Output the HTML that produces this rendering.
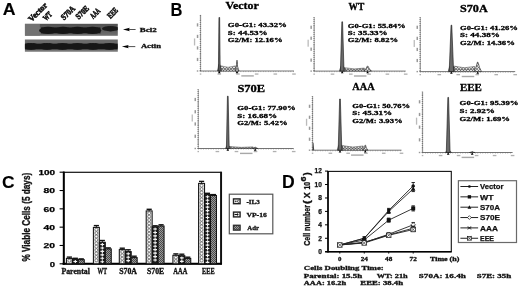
<!DOCTYPE html>
<html><head><meta charset="utf-8"><style>
html,body{margin:0;padding:0;background:#fff;}
svg{display:block;filter:grayscale(100%);}
text{paint-order:stroke;}
</style></head><body>
<svg width="520" height="287" viewBox="0 0 520 287">
<rect width="520" height="287" fill="#fff"/>

<defs>
 <pattern id="pHatch" width="2" height="2" patternUnits="userSpaceOnUse">
  <rect width="2" height="2" fill="#9a9a9a"/>
  <rect width="1" height="1" fill="#4a4a4a"/>
  <rect x="1" y="1" width="1" height="1" fill="#4a4a4a"/>
 </pattern>
 <pattern id="pS" width="3" height="3" patternUnits="userSpaceOnUse">
  <rect width="3" height="3" fill="#e4e4e4"/>
  <path d="M0,0 L3,3 M3,0 L0,3" stroke="#555" stroke-width="0.6"/>
 </pattern>
 <linearGradient id="gBlot1" x1="0" y1="0" x2="0" y2="1">
  <stop offset="0" stop-color="#525252"/>
  <stop offset="0.6" stop-color="#5e5e5e"/>
  <stop offset="1" stop-color="#747474"/>
 </linearGradient>
 <linearGradient id="gBlot2" x1="0" y1="0" x2="0" y2="1">
  <stop offset="0" stop-color="#6a6a6a"/>
  <stop offset="0.8" stop-color="#6a6a6a"/>
  <stop offset="1" stop-color="#858585"/>
 </linearGradient>
 <filter id="fBlur" x="-5%" y="-20%" width="110%" height="140%"><feGaussianBlur stdDeviation="0.55"/></filter>
 <clipPath id="cBlot1"><rect x="24.9" y="23.8" width="92.9" height="12.0"/></clipPath>
 <clipPath id="cBlot2"><rect x="24.9" y="39.5" width="92.9" height="12.3"/></clipPath>
</defs>
<text x="2.8" y="15.1" font-size="17" font-family='"Liberation Sans", sans-serif' font-weight="bold" fill="#000" textLength="12.8" lengthAdjust="spacingAndGlyphs" stroke="#000" stroke-width="0.15" >A</text>
<rect x="24.9" y="23.8" width="92.9" height="12.0" fill="url(#gBlot1)"/>
<g filter="url(#fBlur)" clip-path="url(#cBlot1)">
<rect x="24.9" y="23.8" width="15" height="12" fill="#727272" />
<ellipse cx="48" cy="30.4" rx="9" ry="3.55" fill="#161616"/>
<ellipse cx="63" cy="30.4" rx="8.8" ry="3.55" fill="#161616"/>
<ellipse cx="77.5" cy="30.4" rx="8.6" ry="3.55" fill="#161616"/>
<ellipse cx="92.5" cy="30.4" rx="8.8" ry="3.55" fill="#161616"/>
<rect x="41" y="27.4" width="59.5" height="6.0" fill="#161616"/>
<ellipse cx="110.5" cy="28.7" rx="8.5" ry="2.7" fill="#1c1c1c"/>
</g>
<rect x="24.9" y="39.5" width="92.9" height="12.3" fill="url(#gBlot2)"/>
<g filter="url(#fBlur)" clip-path="url(#cBlot2)">
<ellipse cx="31" cy="46.4" rx="8.6" ry="3.3" fill="#141414"/>
<ellipse cx="47" cy="46.4" rx="8.6" ry="3.3" fill="#141414"/>
<ellipse cx="62.5" cy="46.4" rx="8.6" ry="3.3" fill="#141414"/>
<ellipse cx="77.5" cy="46.4" rx="8.6" ry="3.3" fill="#141414"/>
<ellipse cx="93" cy="46.4" rx="8.6" ry="3.3" fill="#141414"/>
<ellipse cx="109.5" cy="46.4" rx="8.6" ry="3.3" fill="#141414"/>
<rect x="24.9" y="43.6" width="92.9" height="5.8" fill="#141414"/>
</g>
<text x="31.6" y="22.2" font-size="8.4" font-family='"Liberation Serif", serif' font-weight="bold" fill="#111" textLength="23" lengthAdjust="spacingAndGlyphs" stroke="#111" stroke-width="0.6" transform="rotate(-45 31.6 22.2)" >Vector</text>
<text x="46.2" y="21.3" font-size="8.4" font-family='"Liberation Serif", serif' font-weight="bold" fill="#111" textLength="9" lengthAdjust="spacingAndGlyphs" stroke="#111" stroke-width="0.6" transform="rotate(-45 46.2 21.3)" >WT</text>
<text x="64.1" y="20.5" font-size="8.4" font-family='"Liberation Serif", serif' font-weight="bold" fill="#111" textLength="16.2" lengthAdjust="spacingAndGlyphs" stroke="#111" stroke-width="0.6" transform="rotate(-45 64.1 20.5)" >S70A</text>
<text x="78.8" y="19.8" font-size="8.4" font-family='"Liberation Serif", serif' font-weight="bold" fill="#111" textLength="15.3" lengthAdjust="spacingAndGlyphs" stroke="#111" stroke-width="0.6" transform="rotate(-45 78.8 19.8)" >S70E</text>
<text x="93.2" y="19.2" font-size="8.4" font-family='"Liberation Serif", serif' font-weight="bold" fill="#111" textLength="11" lengthAdjust="spacingAndGlyphs" stroke="#111" stroke-width="0.6" transform="rotate(-45 93.2 19.2)" >AAA</text>
<text x="110.6" y="18.9" font-size="8.4" font-family='"Liberation Serif", serif' font-weight="bold" fill="#111" textLength="11.2" lengthAdjust="spacingAndGlyphs" stroke="#111" stroke-width="0.6" transform="rotate(-45 110.6 18.9)" >EEE</text>
<line x1="126" y1="29.5" x2="135.6" y2="29.5" stroke="#222" stroke-width="0.8" />
<polygon points="123,29.5 129.8,27.8 128.8,29.5 129.8,31.2" fill="#000" />
<line x1="124.9" y1="46.6" x2="135.3" y2="46.6" stroke="#222" stroke-width="0.8" />
<polygon points="121.9,46.6 128.7,44.9 127.7,46.6 128.7,48.3" fill="#000" />
<text x="139.8" y="31.5" font-size="6.8" font-family='"Liberation Serif", serif' font-weight="bold" fill="#111" textLength="17" lengthAdjust="spacingAndGlyphs" stroke="#111" stroke-width="0.3" >Bcl2</text>
<text x="140.9" y="47.8" font-size="6.8" font-family='"Liberation Serif", serif' font-weight="bold" fill="#111" textLength="20.1" lengthAdjust="spacingAndGlyphs" stroke="#111" stroke-width="0.3" >Actin</text>
<text x="170.6" y="15.6" font-size="17.9" font-family='"Liberation Sans", sans-serif' font-weight="bold" fill="#000" textLength="11.9" lengthAdjust="spacingAndGlyphs" stroke="#000" stroke-width="0.1" >B</text>
<line x1="200.6" y1="14.9" x2="200.6" y2="71" stroke="#666" stroke-width="0.6" />
<line x1="200.4" y1="14.9" x2="200.4" y2="71" stroke="#444" stroke-width="1.4" stroke-dasharray="0.5 1.4"/>
<rect x="196.8" y="70.3" width="1.5" height="1.4" fill="#999" />
<rect x="196.8" y="57.88" width="1.5" height="3.2" fill="#999" />
<rect x="196.8" y="46.35" width="1.5" height="3.2" fill="#999" />
<rect x="196.8" y="34.82" width="1.5" height="3.2" fill="#999" />
<rect x="196.8" y="23.3" width="1.5" height="3.2" fill="#999" />
<rect x="193.9" y="38.45" width="1.3" height="7" fill="#bbb" />
<line x1="199.6" y1="71" x2="294" y2="71" stroke="#3a3a3a" stroke-width="0.7" />
<line x1="200.6" y1="71.6" x2="294" y2="71.6" stroke="#666" stroke-width="0.8" stroke-dasharray="0.5 2.0"/>
<rect x="199.8" y="73.4" width="1.5" height="1.3" fill="#b0b0b0" />
<rect x="217.48" y="73.4" width="3.6" height="1.3" fill="#b0b0b0" />
<rect x="236.16" y="73.4" width="3.6" height="1.3" fill="#b0b0b0" />
<rect x="254.84" y="73.4" width="3.6" height="1.3" fill="#b0b0b0" />
<rect x="273.52" y="73.4" width="3.6" height="1.3" fill="#b0b0b0" />
<rect x="292.2" y="73.4" width="3.6" height="1.3" fill="#b0b0b0" />
<rect x="241.3" y="75.2" width="12.5" height="1.4" fill="#a8a8a8" />
<path d="M220.5,71 L220.5,65.8 Q228.05,68.8 235.6,65.9 L235.6,71 Z" fill="url(#pS)" stroke="#333" stroke-width="0.5"/>
<path d="M220.5,68.6 Q228.05,70 235.6,68.42" fill="none" stroke="#444" stroke-width="0.45"/>
<polygon points="235,71 236.44,66.28 236.7,60.5 237.3,60.5 237.56,66.28 239,71" fill="url(#pS)" stroke="#222" stroke-width="0.6" />
<polygon points="217.4,71 218.2,67.75 218.76,64.5 219.84,64.5 220.8,67.75 221.7,71" fill="#888" stroke="#222" stroke-width="0.5" />
<polygon points="218.4,71 218.95,17.5 219.65,17.5 220.2,71" fill="#6a6a6a" stroke="#111" stroke-width="0.6" />
<polygon points="218,73.2 219.3,70.8 220.6,73.2" fill="#000" />
<polygon points="235.7,73.2 237,70.8 238.3,73.2" fill="#000" />
<text x="225.5" y="9.3" font-size="10.3" font-family='"Liberation Serif", serif' font-weight="bold" fill="#000" textLength="33.3" lengthAdjust="spacingAndGlyphs" stroke="#000" stroke-width="0.3" >Vector</text>
<text x="227.8" y="27.2" font-size="7" font-family='"Liberation Serif", serif' font-weight="bold" fill="#000" textLength="59.1" lengthAdjust="spacingAndGlyphs" stroke="#000" stroke-width="0.3" >G0-G1: 43.32%</text>
<text x="227.8" y="34.7" font-size="7" font-family='"Liberation Serif", serif' font-weight="bold" fill="#000" textLength="39.8" lengthAdjust="spacingAndGlyphs" stroke="#000" stroke-width="0.3" >S: 44.53%</text>
<text x="227.8" y="42.2" font-size="7" font-family='"Liberation Serif", serif' font-weight="bold" fill="#000" textLength="54.8" lengthAdjust="spacingAndGlyphs" stroke="#000" stroke-width="0.3" >G2/M: 12.16%</text>
<line x1="314.2" y1="17.3" x2="314.2" y2="71.1" stroke="#666" stroke-width="0.6" />
<line x1="314" y1="17.3" x2="314" y2="71.1" stroke="#444" stroke-width="1.4" stroke-dasharray="0.5 1.4"/>
<rect x="310.4" y="70.4" width="1.5" height="1.4" fill="#999" />
<rect x="310.4" y="58.55" width="1.5" height="3.2" fill="#999" />
<rect x="310.4" y="47.6" width="1.5" height="3.2" fill="#999" />
<rect x="310.4" y="36.65" width="1.5" height="3.2" fill="#999" />
<rect x="310.4" y="25.7" width="1.5" height="3.2" fill="#999" />
<rect x="307.5" y="39.7" width="1.3" height="7" fill="#bbb" />
<line x1="313.2" y1="71.1" x2="405.7" y2="71.1" stroke="#3a3a3a" stroke-width="0.7" />
<line x1="314.2" y1="71.7" x2="405.7" y2="71.7" stroke="#666" stroke-width="0.8" stroke-dasharray="0.5 2.0"/>
<rect x="313.4" y="73.5" width="1.5" height="1.3" fill="#b0b0b0" />
<rect x="330.7" y="73.5" width="3.6" height="1.3" fill="#b0b0b0" />
<rect x="349" y="73.5" width="3.6" height="1.3" fill="#b0b0b0" />
<rect x="367.3" y="73.5" width="3.6" height="1.3" fill="#b0b0b0" />
<rect x="385.6" y="73.5" width="3.6" height="1.3" fill="#b0b0b0" />
<rect x="403.9" y="73.5" width="3.6" height="1.3" fill="#b0b0b0" />
<rect x="353.95" y="75.3" width="12.5" height="1.4" fill="#a8a8a8" />
<path d="M344.3,71.1 L344.3,67.7 Q354.35,69.89 364.4,68.1 L364.4,71.1 Z" fill="url(#pS)" stroke="#333" stroke-width="0.5"/>
<path d="M344.3,69.78 Q354.35,70.55 364.4,69.78" fill="none" stroke="#444" stroke-width="0.45"/>
<polygon points="363.8,71.1 365.78,68.85 367.3,66.1 367.9,66.1 369.42,68.85 371.4,71.1" fill="url(#pS)" stroke="#222" stroke-width="0.6" />
<polygon points="339.4,71.1 340.2,68.6 341.12,66.1 343.28,66.1 344.6,68.6 345.5,71.1" fill="#888" stroke="#222" stroke-width="0.5" />
<polygon points="340.4,71.1 341.85,21.8 342.55,21.8 344,71.1" fill="#6a6a6a" stroke="#111" stroke-width="0.6" />
<polygon points="340.9,73.3 342.2,70.9 343.5,73.3" fill="#000" />
<polygon points="366.3,73.3 367.6,70.9 368.9,73.3" fill="#000" />
<text x="348.5" y="9.5" font-size="9.6" font-family='"Liberation Serif", serif' font-weight="bold" fill="#000" textLength="15.7" lengthAdjust="spacingAndGlyphs" stroke="#000" stroke-width="0.3" >WT</text>
<text x="347.8" y="27.6" font-size="7" font-family='"Liberation Serif", serif' font-weight="bold" fill="#000" textLength="57.9" lengthAdjust="spacingAndGlyphs" stroke="#000" stroke-width="0.3" >G0-G1: 55.84%</text>
<text x="347.8" y="34.9" font-size="7" font-family='"Liberation Serif", serif' font-weight="bold" fill="#000" textLength="39.8" lengthAdjust="spacingAndGlyphs" stroke="#000" stroke-width="0.3" >S: 35.33%</text>
<text x="347.8" y="42.2" font-size="7" font-family='"Liberation Serif", serif' font-weight="bold" fill="#000" textLength="50.3" lengthAdjust="spacingAndGlyphs" stroke="#000" stroke-width="0.3" >G2/M: 8.82%</text>
<line x1="420.3" y1="17.3" x2="420.3" y2="71.6" stroke="#666" stroke-width="0.6" />
<line x1="420.1" y1="17.3" x2="420.1" y2="71.6" stroke="#444" stroke-width="1.4" stroke-dasharray="0.5 1.4"/>
<rect x="416.5" y="70.9" width="1.5" height="1.4" fill="#999" />
<rect x="416.5" y="58.92" width="1.5" height="3.2" fill="#999" />
<rect x="416.5" y="47.85" width="1.5" height="3.2" fill="#999" />
<rect x="416.5" y="36.77" width="1.5" height="3.2" fill="#999" />
<rect x="416.5" y="25.7" width="1.5" height="3.2" fill="#999" />
<rect x="413.6" y="39.95" width="1.3" height="7" fill="#bbb" />
<line x1="419.3" y1="71.6" x2="515.2" y2="71.6" stroke="#3a3a3a" stroke-width="0.7" />
<line x1="420.3" y1="72.2" x2="515.2" y2="72.2" stroke="#666" stroke-width="0.8" stroke-dasharray="0.5 2.0"/>
<rect x="419.5" y="74" width="1.5" height="1.3" fill="#b0b0b0" />
<rect x="437.48" y="74" width="3.6" height="1.3" fill="#b0b0b0" />
<rect x="456.46" y="74" width="3.6" height="1.3" fill="#b0b0b0" />
<rect x="475.44" y="74" width="3.6" height="1.3" fill="#b0b0b0" />
<rect x="494.42" y="74" width="3.6" height="1.3" fill="#b0b0b0" />
<rect x="513.4" y="74" width="3.6" height="1.3" fill="#b0b0b0" />
<rect x="461.75" y="75.8" width="12.5" height="1.4" fill="#a8a8a8" />
<path d="M453.9,71.6 L453.9,66.1 Q464.2,69.23 474.5,66.5 L474.5,71.6 Z" fill="url(#pS)" stroke="#333" stroke-width="0.5"/>
<path d="M453.9,69.02 Q464.2,70.52 474.5,69.02" fill="none" stroke="#444" stroke-width="0.45"/>
<polygon points="473.9,71.6 475.88,67.37 477.4,62.2 478,62.2 479.52,67.37 481.5,71.6" fill="url(#pS)" stroke="#222" stroke-width="0.6" />
<polygon points="448.2,71.6 449,68.6 450.08,65.6 452.72,65.6 454.2,68.6 455.1,71.6" fill="#888" stroke="#222" stroke-width="0.5" />
<polygon points="449.2,71.6 451.05,25.2 451.75,25.2 453.6,71.6" fill="#6a6a6a" stroke="#111" stroke-width="0.6" />
<polygon points="450.1,73.8 451.4,71.4 452.7,73.8" fill="#000" />
<polygon points="476.4,73.8 477.7,71.4 479,73.8" fill="#000" />
<text x="460" y="12" font-size="9.6" font-family='"Liberation Serif", serif' font-weight="bold" fill="#000" textLength="27.7" lengthAdjust="spacingAndGlyphs" stroke="#000" stroke-width="0.3" >S70A</text>
<text x="460" y="29.8" font-size="7" font-family='"Liberation Serif", serif' font-weight="bold" fill="#000" textLength="57.9" lengthAdjust="spacingAndGlyphs" stroke="#000" stroke-width="0.3" >G0-G1: 41.26%</text>
<text x="460" y="37.4" font-size="7" font-family='"Liberation Serif", serif' font-weight="bold" fill="#000" textLength="39.8" lengthAdjust="spacingAndGlyphs" stroke="#000" stroke-width="0.3" >S: 44.38%</text>
<text x="460" y="45" font-size="7" font-family='"Liberation Serif", serif' font-weight="bold" fill="#000" textLength="54.8" lengthAdjust="spacingAndGlyphs" stroke="#000" stroke-width="0.3" >G2/M: 14.36%</text>
<line x1="198.3" y1="89.5" x2="198.3" y2="148.5" stroke="#666" stroke-width="0.6" />
<line x1="198.1" y1="89.5" x2="198.1" y2="148.5" stroke="#444" stroke-width="1.4" stroke-dasharray="0.5 1.4"/>
<rect x="194.5" y="147.8" width="1.5" height="1.4" fill="#999" />
<rect x="194.5" y="134.65" width="1.5" height="3.2" fill="#999" />
<rect x="194.5" y="122.4" width="1.5" height="3.2" fill="#999" />
<rect x="194.5" y="110.15" width="1.5" height="3.2" fill="#999" />
<rect x="194.5" y="97.9" width="1.5" height="3.2" fill="#999" />
<rect x="191.6" y="114.5" width="1.3" height="7" fill="#bbb" />
<line x1="197.3" y1="148.5" x2="293.7" y2="148.5" stroke="#3a3a3a" stroke-width="0.7" />
<line x1="198.3" y1="149.1" x2="293.7" y2="149.1" stroke="#666" stroke-width="0.8" stroke-dasharray="0.5 2.0"/>
<rect x="197.5" y="150.9" width="1.5" height="1.3" fill="#b0b0b0" />
<rect x="215.58" y="150.9" width="3.6" height="1.3" fill="#b0b0b0" />
<rect x="234.66" y="150.9" width="3.6" height="1.3" fill="#b0b0b0" />
<rect x="253.74" y="150.9" width="3.6" height="1.3" fill="#b0b0b0" />
<rect x="272.82" y="150.9" width="3.6" height="1.3" fill="#b0b0b0" />
<rect x="291.9" y="150.9" width="3.6" height="1.3" fill="#b0b0b0" />
<rect x="240" y="152.7" width="12.5" height="1.4" fill="#a8a8a8" />
<path d="M229.5,148.5 L229.5,146.5 Q241.3,148.06 253.1,146.9 L253.1,148.5 Z" fill="url(#pS)" stroke="#333" stroke-width="0.5"/>
<path d="M229.5,148.02 Q241.3,148.3 253.1,148.02" fill="none" stroke="#444" stroke-width="0.45"/>
<polygon points="252.5,148.5 254.15,147.82 254.9,147 255.5,147 256.25,147.82 257.9,148.5" fill="url(#pS)" stroke="#222" stroke-width="0.6" />
<polygon points="225.4,148.5 226.2,147 226.96,145.5 228.64,145.5 229.8,147 230.7,148.5" fill="#888" stroke="#222" stroke-width="0.5" />
<polygon points="226.4,148.5 227.45,96.2 228.15,96.2 229.2,148.5" fill="#6a6a6a" stroke="#111" stroke-width="0.6" />
<polygon points="226.5,150.7 227.8,148.3 229.1,150.7" fill="#000" />
<polygon points="253.9,150.7 255.2,148.3 256.5,150.7" fill="#000" />
<text x="237.4" y="92.2" font-size="9.6" font-family='"Liberation Serif", serif' font-weight="bold" fill="#000" textLength="27.7" lengthAdjust="spacingAndGlyphs" stroke="#000" stroke-width="0.3" >S70E</text>
<text x="237.3" y="110" font-size="7" font-family='"Liberation Serif", serif' font-weight="bold" fill="#000" textLength="58.4" lengthAdjust="spacingAndGlyphs" stroke="#000" stroke-width="0.3" >G0-G1: 77.90%</text>
<text x="237.3" y="117.6" font-size="7" font-family='"Liberation Serif", serif' font-weight="bold" fill="#000" textLength="39.8" lengthAdjust="spacingAndGlyphs" stroke="#000" stroke-width="0.3" >S: 16.68%</text>
<text x="237.3" y="125.2" font-size="7" font-family='"Liberation Serif", serif' font-weight="bold" fill="#000" textLength="50.3" lengthAdjust="spacingAndGlyphs" stroke="#000" stroke-width="0.3" >G2/M: 5.42%</text>
<line x1="312.6" y1="96.3" x2="312.6" y2="150.2" stroke="#666" stroke-width="0.6" />
<line x1="312.4" y1="96.3" x2="312.4" y2="150.2" stroke="#444" stroke-width="1.4" stroke-dasharray="0.5 1.4"/>
<rect x="308.8" y="149.5" width="1.5" height="1.4" fill="#999" />
<rect x="308.8" y="137.62" width="1.5" height="3.2" fill="#999" />
<rect x="308.8" y="126.65" width="1.5" height="3.2" fill="#999" />
<rect x="308.8" y="115.67" width="1.5" height="3.2" fill="#999" />
<rect x="308.8" y="104.7" width="1.5" height="3.2" fill="#999" />
<rect x="305.9" y="118.75" width="1.3" height="7" fill="#bbb" />
<line x1="311.6" y1="150.2" x2="401.5" y2="150.2" stroke="#3a3a3a" stroke-width="0.7" />
<line x1="312.6" y1="150.8" x2="401.5" y2="150.8" stroke="#666" stroke-width="0.8" stroke-dasharray="0.5 2.0"/>
<rect x="311.8" y="152.6" width="1.5" height="1.3" fill="#b0b0b0" />
<rect x="328.58" y="152.6" width="3.6" height="1.3" fill="#b0b0b0" />
<rect x="346.36" y="152.6" width="3.6" height="1.3" fill="#b0b0b0" />
<rect x="364.14" y="152.6" width="3.6" height="1.3" fill="#b0b0b0" />
<rect x="381.92" y="152.6" width="3.6" height="1.3" fill="#b0b0b0" />
<rect x="399.7" y="152.6" width="3.6" height="1.3" fill="#b0b0b0" />
<rect x="351.05" y="154.4" width="12.5" height="1.4" fill="#a8a8a8" />
<path d="M342.1,150.2 L342.1,145.6 Q352.65,148.33 363.2,146 L363.2,150.2 Z" fill="url(#pS)" stroke="#333" stroke-width="0.5"/>
<path d="M342.1,148.16 Q352.65,149.35 363.2,148.16" fill="none" stroke="#444" stroke-width="0.45"/>
<polygon points="362.6,150.2 364.25,147.95 365,145.2 365.6,145.2 366.35,147.95 368,150.2" fill="url(#pS)" stroke="#222" stroke-width="0.6" />
<polygon points="337.2,150.2 338,147.45 338.92,144.7 341.08,144.7 342.4,147.45 343.3,150.2" fill="#888" stroke="#222" stroke-width="0.5" />
<polygon points="338.2,150.2 339.65,99 340.35,99 341.8,150.2" fill="#6a6a6a" stroke="#111" stroke-width="0.6" />
<polygon points="338.7,152.4 340,150 341.3,152.4" fill="#000" />
<polygon points="364,152.4 365.3,150 366.6,152.4" fill="#000" />
<polygon points="312.7,150.2 313,142.7 313.5,142.7 314.2,150.2" fill="#444" />
<text x="352.3" y="89.5" font-size="9.6" font-family='"Liberation Serif", serif' font-weight="bold" fill="#000" textLength="22.3" lengthAdjust="spacingAndGlyphs" stroke="#000" stroke-width="0.3" >AAA</text>
<text x="352.3" y="107.8" font-size="7" font-family='"Liberation Serif", serif' font-weight="bold" fill="#000" textLength="57.8" lengthAdjust="spacingAndGlyphs" stroke="#000" stroke-width="0.3" >G0-G1: 50.76%</text>
<text x="352.3" y="115.4" font-size="7" font-family='"Liberation Serif", serif' font-weight="bold" fill="#000" textLength="39.8" lengthAdjust="spacingAndGlyphs" stroke="#000" stroke-width="0.3" >S: 45.31%</text>
<text x="352.3" y="123" font-size="7" font-family='"Liberation Serif", serif' font-weight="bold" fill="#000" textLength="50.3" lengthAdjust="spacingAndGlyphs" stroke="#000" stroke-width="0.3" >G2/M: 3.93%</text>
<line x1="422.6" y1="91.8" x2="422.6" y2="152.5" stroke="#666" stroke-width="0.6" />
<line x1="422.4" y1="91.8" x2="422.4" y2="152.5" stroke="#444" stroke-width="1.4" stroke-dasharray="0.5 1.4"/>
<rect x="418.8" y="151.8" width="1.5" height="1.4" fill="#999" />
<rect x="418.8" y="138.22" width="1.5" height="3.2" fill="#999" />
<rect x="418.8" y="125.55" width="1.5" height="3.2" fill="#999" />
<rect x="418.8" y="112.88" width="1.5" height="3.2" fill="#999" />
<rect x="418.8" y="100.2" width="1.5" height="3.2" fill="#999" />
<rect x="415.9" y="117.65" width="1.3" height="7" fill="#bbb" />
<line x1="421.6" y1="152.5" x2="512.6" y2="152.5" stroke="#3a3a3a" stroke-width="0.7" />
<line x1="422.6" y1="153.1" x2="512.6" y2="153.1" stroke="#666" stroke-width="0.8" stroke-dasharray="0.5 2.0"/>
<rect x="421.8" y="154.9" width="1.5" height="1.3" fill="#b0b0b0" />
<rect x="438.8" y="154.9" width="3.6" height="1.3" fill="#b0b0b0" />
<rect x="456.8" y="154.9" width="3.6" height="1.3" fill="#b0b0b0" />
<rect x="474.8" y="154.9" width="3.6" height="1.3" fill="#b0b0b0" />
<rect x="492.8" y="154.9" width="3.6" height="1.3" fill="#b0b0b0" />
<rect x="510.8" y="154.9" width="3.6" height="1.3" fill="#b0b0b0" />
<rect x="461.6" y="156.7" width="12.5" height="1.4" fill="#a8a8a8" />
<polygon points="469.5,152.5 471.15,152.09 471.9,151.6 472.5,151.6 473.25,152.09 474.9,152.5" fill="url(#pS)" stroke="#222" stroke-width="0.6" />
<polygon points="445.3,152.5 446.1,151.5 447.06,150.5 449.34,150.5 450.7,151.5 451.6,152.5" fill="#888" stroke="#222" stroke-width="0.5" />
<polygon points="446.3,152.5 447.85,97.4 448.55,97.4 450.1,152.5" fill="#6a6a6a" stroke="#111" stroke-width="0.6" />
<polygon points="446.9,154.7 448.2,152.3 449.5,154.7" fill="#000" />
<polygon points="470.9,154.7 472.2,152.3 473.5,154.7" fill="#000" />
<text x="460" y="90.9" font-size="9.6" font-family='"Liberation Serif", serif' font-weight="bold" fill="#000" textLength="21.8" lengthAdjust="spacingAndGlyphs" stroke="#000" stroke-width="0.3" >EEE</text>
<text x="459.6" y="105.1" font-size="7" font-family='"Liberation Serif", serif' font-weight="bold" fill="#000" textLength="59" lengthAdjust="spacingAndGlyphs" stroke="#000" stroke-width="0.3" >G0-G1: 95.39%</text>
<text x="459.6" y="113" font-size="7" font-family='"Liberation Serif", serif' font-weight="bold" fill="#000" textLength="35.3" lengthAdjust="spacingAndGlyphs" stroke="#000" stroke-width="0.3" >S: 2.92%</text>
<text x="459.6" y="120.9" font-size="7" font-family='"Liberation Serif", serif' font-weight="bold" fill="#000" textLength="50.3" lengthAdjust="spacingAndGlyphs" stroke="#000" stroke-width="0.3" >G2/M: 1.69%</text>
<text x="2.1" y="187.8" font-size="17.4" font-family='"Liberation Sans", sans-serif' font-weight="bold" fill="#000" textLength="12.6" lengthAdjust="spacingAndGlyphs" stroke="#000" stroke-width="0.1" >C</text>
<rect x="63.6" y="172.3" width="157.5" height="91.5" fill="none" stroke="#111" stroke-width="1.2" />
<line x1="221.1" y1="171.8" x2="221.1" y2="264.6" stroke="#111" stroke-width="1.9" />
<line x1="63.8" y1="171.6" x2="63.8" y2="264.8" stroke="#000" stroke-width="2" />
<line x1="62.6" y1="263.8" x2="221.8" y2="263.8" stroke="#000" stroke-width="1.9" />
<line x1="59.6" y1="263.8" x2="63.6" y2="263.8" stroke="#000" stroke-width="1.1" />
<text x="49.8" y="266.5" font-size="7.6" font-family='"Liberation Sans", sans-serif' font-weight="bold" fill="#000" textLength="5.3" lengthAdjust="spacingAndGlyphs" stroke="#000" stroke-width="0.25" >0</text>
<line x1="59.6" y1="245.48" x2="63.6" y2="245.48" stroke="#000" stroke-width="1.1" />
<text x="43.6" y="248.18" font-size="7.6" font-family='"Liberation Sans", sans-serif' font-weight="bold" fill="#000" textLength="11.5" lengthAdjust="spacingAndGlyphs" stroke="#000" stroke-width="0.25" >20</text>
<line x1="59.6" y1="227.16" x2="63.6" y2="227.16" stroke="#000" stroke-width="1.1" />
<text x="43.6" y="229.86" font-size="7.6" font-family='"Liberation Sans", sans-serif' font-weight="bold" fill="#000" textLength="11.5" lengthAdjust="spacingAndGlyphs" stroke="#000" stroke-width="0.25" >40</text>
<line x1="59.6" y1="208.84" x2="63.6" y2="208.84" stroke="#000" stroke-width="1.1" />
<text x="43.6" y="211.54" font-size="7.6" font-family='"Liberation Sans", sans-serif' font-weight="bold" fill="#000" textLength="11.5" lengthAdjust="spacingAndGlyphs" stroke="#000" stroke-width="0.25" >60</text>
<line x1="59.6" y1="190.52" x2="63.6" y2="190.52" stroke="#000" stroke-width="1.1" />
<text x="43.6" y="193.22" font-size="7.6" font-family='"Liberation Sans", sans-serif' font-weight="bold" fill="#000" textLength="11.5" lengthAdjust="spacingAndGlyphs" stroke="#000" stroke-width="0.25" >80</text>
<line x1="59.6" y1="172.2" x2="63.6" y2="172.2" stroke="#000" stroke-width="1.1" />
<text x="38.4" y="174.9" font-size="7.6" font-family='"Liberation Sans", sans-serif' font-weight="bold" fill="#000" textLength="16.7" lengthAdjust="spacingAndGlyphs" stroke="#000" stroke-width="0.25" >100</text>
<text x="29.9" y="261.6" font-size="10.4" font-family='"Liberation Sans", sans-serif' font-weight="bold" fill="#111" textLength="88.8" lengthAdjust="spacingAndGlyphs" stroke="#111" stroke-width="0.35" transform="rotate(-90 29.9 261.6)" >% Viable Cells (5 days)</text>
<rect x="66.4" y="258.4" width="5.95" height="5.4" fill="#e2e2e2" />
<circle cx="69.38" cy="260.7" r="1.45" fill="#fff" stroke="#3a3a3a" stroke-width="0.6"/>
<rect x="66.4" y="258.4" width="5.95" height="5.4" fill="none" stroke="#111" stroke-width="1.05" />
<line x1="69.38" y1="258.4" x2="69.38" y2="257.1" stroke="#111" stroke-width="0.9" />
<line x1="66.8" y1="257.1" x2="71.95" y2="257.1" stroke="#111" stroke-width="1.4" />
<rect x="72.35" y="259.3" width="5.95" height="4.5" fill="#1c1c1c" />
<path d="M73.42,260.93 h3.8 v1.15 h-3.8 z M74.75,260 h1.15 v3.0 h-1.15 z" fill="#f4f4f4"/>
<rect x="72.35" y="259.3" width="5.95" height="4.5" fill="none" stroke="#111" stroke-width="1.05" />
<line x1="75.33" y1="259.3" x2="75.33" y2="258.3" stroke="#111" stroke-width="0.9" />
<line x1="72.75" y1="258.3" x2="77.9" y2="258.3" stroke="#111" stroke-width="1.4" />
<rect x="78.3" y="259.7" width="5.95" height="4.1" fill="url(#pHatch)" />
<rect x="78.3" y="259.7" width="5.95" height="4.1" fill="none" stroke="#111" stroke-width="1.05" />
<line x1="81.28" y1="259.7" x2="81.28" y2="258.9" stroke="#111" stroke-width="0.9" />
<line x1="78.7" y1="258.9" x2="83.85" y2="258.9" stroke="#111" stroke-width="1.4" />
<rect x="93.4" y="227.4" width="5.95" height="36.4" fill="#e2e2e2" />
<circle cx="96.38" cy="229.7" r="1.45" fill="#fff" stroke="#3a3a3a" stroke-width="0.6"/>
<circle cx="96.38" cy="233.1" r="1.45" fill="#fff" stroke="#3a3a3a" stroke-width="0.6"/>
<circle cx="96.38" cy="236.5" r="1.45" fill="#fff" stroke="#3a3a3a" stroke-width="0.6"/>
<circle cx="96.38" cy="239.9" r="1.45" fill="#fff" stroke="#3a3a3a" stroke-width="0.6"/>
<circle cx="96.38" cy="243.3" r="1.45" fill="#fff" stroke="#3a3a3a" stroke-width="0.6"/>
<circle cx="96.38" cy="246.7" r="1.45" fill="#fff" stroke="#3a3a3a" stroke-width="0.6"/>
<circle cx="96.38" cy="250.1" r="1.45" fill="#fff" stroke="#3a3a3a" stroke-width="0.6"/>
<circle cx="96.38" cy="253.5" r="1.45" fill="#fff" stroke="#3a3a3a" stroke-width="0.6"/>
<circle cx="96.38" cy="256.9" r="1.45" fill="#fff" stroke="#3a3a3a" stroke-width="0.6"/>
<circle cx="96.38" cy="260.3" r="1.45" fill="#fff" stroke="#3a3a3a" stroke-width="0.6"/>
<rect x="93.4" y="227.4" width="5.95" height="36.4" fill="none" stroke="#111" stroke-width="1.05" />
<line x1="96.38" y1="227.4" x2="96.38" y2="225.6" stroke="#111" stroke-width="0.9" />
<line x1="93.8" y1="225.6" x2="98.95" y2="225.6" stroke="#111" stroke-width="1.4" />
<rect x="99.35" y="242.3" width="5.95" height="21.5" fill="#1c1c1c" />
<path d="M100.42,243.93 h3.8 v1.15 h-3.8 z M101.75,243 h1.15 v3.0 h-1.15 z" fill="#f4f4f4"/>
<path d="M100.42,247.38 h3.8 v1.15 h-3.8 z M101.75,246.45 h1.15 v3.0 h-1.15 z" fill="#f4f4f4"/>
<path d="M100.42,250.82 h3.8 v1.15 h-3.8 z M101.75,249.9 h1.15 v3.0 h-1.15 z" fill="#f4f4f4"/>
<path d="M100.42,254.27 h3.8 v1.15 h-3.8 z M101.75,253.35 h1.15 v3.0 h-1.15 z" fill="#f4f4f4"/>
<path d="M100.42,257.72 h3.8 v1.15 h-3.8 z M101.75,256.8 h1.15 v3.0 h-1.15 z" fill="#f4f4f4"/>
<path d="M100.42,261.17 h3.8 v1.15 h-3.8 z M101.75,260.25 h1.15 v3.0 h-1.15 z" fill="#f4f4f4"/>
<rect x="99.35" y="242.3" width="5.95" height="21.5" fill="none" stroke="#111" stroke-width="1.05" />
<line x1="102.33" y1="242.3" x2="102.33" y2="240.5" stroke="#111" stroke-width="0.9" />
<line x1="99.75" y1="240.5" x2="104.9" y2="240.5" stroke="#111" stroke-width="1.4" />
<rect x="105.3" y="248.9" width="5.95" height="14.9" fill="url(#pHatch)" />
<rect x="105.3" y="248.9" width="5.95" height="14.9" fill="none" stroke="#111" stroke-width="1.05" />
<line x1="108.28" y1="248.9" x2="108.28" y2="247.9" stroke="#111" stroke-width="0.9" />
<line x1="105.7" y1="247.9" x2="110.85" y2="247.9" stroke="#111" stroke-width="1.4" />
<rect x="119.3" y="249.6" width="5.95" height="14.2" fill="#e2e2e2" />
<circle cx="122.27" cy="251.9" r="1.45" fill="#fff" stroke="#3a3a3a" stroke-width="0.6"/>
<circle cx="122.27" cy="255.3" r="1.45" fill="#fff" stroke="#3a3a3a" stroke-width="0.6"/>
<circle cx="122.27" cy="258.7" r="1.45" fill="#fff" stroke="#3a3a3a" stroke-width="0.6"/>
<circle cx="122.27" cy="262.1" r="1.45" fill="#fff" stroke="#3a3a3a" stroke-width="0.6"/>
<rect x="119.3" y="249.6" width="5.95" height="14.2" fill="none" stroke="#111" stroke-width="1.05" />
<line x1="122.27" y1="249.6" x2="122.27" y2="248.2" stroke="#111" stroke-width="0.9" />
<line x1="119.7" y1="248.2" x2="124.85" y2="248.2" stroke="#111" stroke-width="1.4" />
<rect x="125.25" y="251.6" width="5.95" height="12.2" fill="#1c1c1c" />
<path d="M126.32,253.22 h3.8 v1.15 h-3.8 z M127.65,252.3 h1.15 v3.0 h-1.15 z" fill="#f4f4f4"/>
<path d="M126.32,256.68 h3.8 v1.15 h-3.8 z M127.65,255.75 h1.15 v3.0 h-1.15 z" fill="#f4f4f4"/>
<path d="M126.32,260.12 h3.8 v1.15 h-3.8 z M127.65,259.2 h1.15 v3.0 h-1.15 z" fill="#f4f4f4"/>
<rect x="125.25" y="251.6" width="5.95" height="12.2" fill="none" stroke="#111" stroke-width="1.05" />
<line x1="128.22" y1="251.6" x2="128.22" y2="249.8" stroke="#111" stroke-width="0.9" />
<line x1="125.65" y1="249.8" x2="130.8" y2="249.8" stroke="#111" stroke-width="1.4" />
<rect x="131.2" y="257.6" width="5.95" height="6.2" fill="url(#pHatch)" />
<rect x="131.2" y="257.6" width="5.95" height="6.2" fill="none" stroke="#111" stroke-width="1.05" />
<line x1="134.17" y1="257.6" x2="134.17" y2="256.2" stroke="#111" stroke-width="0.9" />
<line x1="131.6" y1="256.2" x2="136.75" y2="256.2" stroke="#111" stroke-width="1.4" />
<rect x="146.2" y="210.9" width="5.95" height="52.9" fill="#e2e2e2" />
<circle cx="149.17" cy="213.2" r="1.45" fill="#fff" stroke="#3a3a3a" stroke-width="0.6"/>
<circle cx="149.17" cy="216.6" r="1.45" fill="#fff" stroke="#3a3a3a" stroke-width="0.6"/>
<circle cx="149.17" cy="220" r="1.45" fill="#fff" stroke="#3a3a3a" stroke-width="0.6"/>
<circle cx="149.17" cy="223.4" r="1.45" fill="#fff" stroke="#3a3a3a" stroke-width="0.6"/>
<circle cx="149.17" cy="226.8" r="1.45" fill="#fff" stroke="#3a3a3a" stroke-width="0.6"/>
<circle cx="149.17" cy="230.2" r="1.45" fill="#fff" stroke="#3a3a3a" stroke-width="0.6"/>
<circle cx="149.17" cy="233.6" r="1.45" fill="#fff" stroke="#3a3a3a" stroke-width="0.6"/>
<circle cx="149.17" cy="237" r="1.45" fill="#fff" stroke="#3a3a3a" stroke-width="0.6"/>
<circle cx="149.17" cy="240.4" r="1.45" fill="#fff" stroke="#3a3a3a" stroke-width="0.6"/>
<circle cx="149.17" cy="243.8" r="1.45" fill="#fff" stroke="#3a3a3a" stroke-width="0.6"/>
<circle cx="149.17" cy="247.2" r="1.45" fill="#fff" stroke="#3a3a3a" stroke-width="0.6"/>
<circle cx="149.17" cy="250.6" r="1.45" fill="#fff" stroke="#3a3a3a" stroke-width="0.6"/>
<circle cx="149.17" cy="254" r="1.45" fill="#fff" stroke="#3a3a3a" stroke-width="0.6"/>
<circle cx="149.17" cy="257.4" r="1.45" fill="#fff" stroke="#3a3a3a" stroke-width="0.6"/>
<circle cx="149.17" cy="260.8" r="1.45" fill="#fff" stroke="#3a3a3a" stroke-width="0.6"/>
<rect x="146.2" y="210.9" width="5.95" height="52.9" fill="none" stroke="#111" stroke-width="1.05" />
<line x1="149.17" y1="210.9" x2="149.17" y2="209.3" stroke="#111" stroke-width="0.9" />
<line x1="146.6" y1="209.3" x2="151.75" y2="209.3" stroke="#111" stroke-width="1.4" />
<rect x="152.15" y="226.8" width="5.95" height="37" fill="#1c1c1c" />
<path d="M153.22,228.43 h3.8 v1.15 h-3.8 z M154.55,227.5 h1.15 v3.0 h-1.15 z" fill="#f4f4f4"/>
<path d="M153.22,231.88 h3.8 v1.15 h-3.8 z M154.55,230.95 h1.15 v3.0 h-1.15 z" fill="#f4f4f4"/>
<path d="M153.22,235.32 h3.8 v1.15 h-3.8 z M154.55,234.4 h1.15 v3.0 h-1.15 z" fill="#f4f4f4"/>
<path d="M153.22,238.77 h3.8 v1.15 h-3.8 z M154.55,237.85 h1.15 v3.0 h-1.15 z" fill="#f4f4f4"/>
<path d="M153.22,242.22 h3.8 v1.15 h-3.8 z M154.55,241.3 h1.15 v3.0 h-1.15 z" fill="#f4f4f4"/>
<path d="M153.22,245.67 h3.8 v1.15 h-3.8 z M154.55,244.75 h1.15 v3.0 h-1.15 z" fill="#f4f4f4"/>
<path d="M153.22,249.12 h3.8 v1.15 h-3.8 z M154.55,248.2 h1.15 v3.0 h-1.15 z" fill="#f4f4f4"/>
<path d="M153.22,252.57 h3.8 v1.15 h-3.8 z M154.55,251.65 h1.15 v3.0 h-1.15 z" fill="#f4f4f4"/>
<path d="M153.22,256.02 h3.8 v1.15 h-3.8 z M154.55,255.1 h1.15 v3.0 h-1.15 z" fill="#f4f4f4"/>
<path d="M153.22,259.47 h3.8 v1.15 h-3.8 z M154.55,258.55 h1.15 v3.0 h-1.15 z" fill="#f4f4f4"/>
<rect x="152.15" y="226.8" width="5.95" height="37" fill="none" stroke="#111" stroke-width="1.05" />
<line x1="155.12" y1="226.8" x2="155.12" y2="225.8" stroke="#111" stroke-width="0.9" />
<line x1="152.55" y1="225.8" x2="157.7" y2="225.8" stroke="#111" stroke-width="1.4" />
<rect x="158.1" y="226" width="5.95" height="37.8" fill="url(#pHatch)" />
<rect x="158.1" y="226" width="5.95" height="37.8" fill="none" stroke="#111" stroke-width="1.05" />
<line x1="161.07" y1="226" x2="161.07" y2="224.8" stroke="#111" stroke-width="0.9" />
<line x1="158.5" y1="224.8" x2="163.65" y2="224.8" stroke="#111" stroke-width="1.4" />
<rect x="172.9" y="255.3" width="5.95" height="8.5" fill="#e2e2e2" />
<circle cx="175.88" cy="257.6" r="1.45" fill="#fff" stroke="#3a3a3a" stroke-width="0.6"/>
<circle cx="175.88" cy="261" r="1.45" fill="#fff" stroke="#3a3a3a" stroke-width="0.6"/>
<rect x="172.9" y="255.3" width="5.95" height="8.5" fill="none" stroke="#111" stroke-width="1.05" />
<line x1="175.88" y1="255.3" x2="175.88" y2="253.9" stroke="#111" stroke-width="0.9" />
<line x1="173.3" y1="253.9" x2="178.45" y2="253.9" stroke="#111" stroke-width="1.4" />
<rect x="178.85" y="255.7" width="5.95" height="8.1" fill="#1c1c1c" />
<path d="M179.92,257.32 h3.8 v1.15 h-3.8 z M181.25,256.4 h1.15 v3.0 h-1.15 z" fill="#f4f4f4"/>
<path d="M179.92,260.77 h3.8 v1.15 h-3.8 z M181.25,259.85 h1.15 v3.0 h-1.15 z" fill="#f4f4f4"/>
<rect x="178.85" y="255.7" width="5.95" height="8.1" fill="none" stroke="#111" stroke-width="1.05" />
<line x1="181.82" y1="255.7" x2="181.82" y2="254.2" stroke="#111" stroke-width="0.9" />
<line x1="179.25" y1="254.2" x2="184.4" y2="254.2" stroke="#111" stroke-width="1.4" />
<rect x="184.8" y="258.4" width="5.95" height="5.4" fill="url(#pHatch)" />
<rect x="184.8" y="258.4" width="5.95" height="5.4" fill="none" stroke="#111" stroke-width="1.05" />
<line x1="187.78" y1="258.4" x2="187.78" y2="257.2" stroke="#111" stroke-width="0.9" />
<line x1="185.2" y1="257.2" x2="190.35" y2="257.2" stroke="#111" stroke-width="1.4" />
<rect x="198.6" y="183.4" width="5.95" height="80.4" fill="#e2e2e2" />
<circle cx="201.57" cy="185.7" r="1.45" fill="#fff" stroke="#3a3a3a" stroke-width="0.6"/>
<circle cx="201.57" cy="189.1" r="1.45" fill="#fff" stroke="#3a3a3a" stroke-width="0.6"/>
<circle cx="201.57" cy="192.5" r="1.45" fill="#fff" stroke="#3a3a3a" stroke-width="0.6"/>
<circle cx="201.57" cy="195.9" r="1.45" fill="#fff" stroke="#3a3a3a" stroke-width="0.6"/>
<circle cx="201.57" cy="199.3" r="1.45" fill="#fff" stroke="#3a3a3a" stroke-width="0.6"/>
<circle cx="201.57" cy="202.7" r="1.45" fill="#fff" stroke="#3a3a3a" stroke-width="0.6"/>
<circle cx="201.57" cy="206.1" r="1.45" fill="#fff" stroke="#3a3a3a" stroke-width="0.6"/>
<circle cx="201.57" cy="209.5" r="1.45" fill="#fff" stroke="#3a3a3a" stroke-width="0.6"/>
<circle cx="201.57" cy="212.9" r="1.45" fill="#fff" stroke="#3a3a3a" stroke-width="0.6"/>
<circle cx="201.57" cy="216.3" r="1.45" fill="#fff" stroke="#3a3a3a" stroke-width="0.6"/>
<circle cx="201.57" cy="219.7" r="1.45" fill="#fff" stroke="#3a3a3a" stroke-width="0.6"/>
<circle cx="201.57" cy="223.1" r="1.45" fill="#fff" stroke="#3a3a3a" stroke-width="0.6"/>
<circle cx="201.57" cy="226.5" r="1.45" fill="#fff" stroke="#3a3a3a" stroke-width="0.6"/>
<circle cx="201.57" cy="229.9" r="1.45" fill="#fff" stroke="#3a3a3a" stroke-width="0.6"/>
<circle cx="201.57" cy="233.3" r="1.45" fill="#fff" stroke="#3a3a3a" stroke-width="0.6"/>
<circle cx="201.57" cy="236.7" r="1.45" fill="#fff" stroke="#3a3a3a" stroke-width="0.6"/>
<circle cx="201.57" cy="240.1" r="1.45" fill="#fff" stroke="#3a3a3a" stroke-width="0.6"/>
<circle cx="201.57" cy="243.5" r="1.45" fill="#fff" stroke="#3a3a3a" stroke-width="0.6"/>
<circle cx="201.57" cy="246.9" r="1.45" fill="#fff" stroke="#3a3a3a" stroke-width="0.6"/>
<circle cx="201.57" cy="250.3" r="1.45" fill="#fff" stroke="#3a3a3a" stroke-width="0.6"/>
<circle cx="201.57" cy="253.7" r="1.45" fill="#fff" stroke="#3a3a3a" stroke-width="0.6"/>
<circle cx="201.57" cy="257.1" r="1.45" fill="#fff" stroke="#3a3a3a" stroke-width="0.6"/>
<circle cx="201.57" cy="260.5" r="1.45" fill="#fff" stroke="#3a3a3a" stroke-width="0.6"/>
<rect x="198.6" y="183.4" width="5.95" height="80.4" fill="none" stroke="#111" stroke-width="1.05" />
<line x1="201.57" y1="183.4" x2="201.57" y2="181.4" stroke="#111" stroke-width="0.9" />
<line x1="199" y1="181.4" x2="204.15" y2="181.4" stroke="#111" stroke-width="1.4" />
<rect x="204.55" y="194.6" width="5.95" height="69.2" fill="#1c1c1c" />
<path d="M205.62,196.22 h3.8 v1.15 h-3.8 z M206.95,195.3 h1.15 v3.0 h-1.15 z" fill="#f4f4f4"/>
<path d="M205.62,199.67 h3.8 v1.15 h-3.8 z M206.95,198.75 h1.15 v3.0 h-1.15 z" fill="#f4f4f4"/>
<path d="M205.62,203.12 h3.8 v1.15 h-3.8 z M206.95,202.2 h1.15 v3.0 h-1.15 z" fill="#f4f4f4"/>
<path d="M205.62,206.57 h3.8 v1.15 h-3.8 z M206.95,205.65 h1.15 v3.0 h-1.15 z" fill="#f4f4f4"/>
<path d="M205.62,210.02 h3.8 v1.15 h-3.8 z M206.95,209.1 h1.15 v3.0 h-1.15 z" fill="#f4f4f4"/>
<path d="M205.62,213.47 h3.8 v1.15 h-3.8 z M206.95,212.55 h1.15 v3.0 h-1.15 z" fill="#f4f4f4"/>
<path d="M205.62,216.92 h3.8 v1.15 h-3.8 z M206.95,216 h1.15 v3.0 h-1.15 z" fill="#f4f4f4"/>
<path d="M205.62,220.37 h3.8 v1.15 h-3.8 z M206.95,219.45 h1.15 v3.0 h-1.15 z" fill="#f4f4f4"/>
<path d="M205.62,223.82 h3.8 v1.15 h-3.8 z M206.95,222.9 h1.15 v3.0 h-1.15 z" fill="#f4f4f4"/>
<path d="M205.62,227.27 h3.8 v1.15 h-3.8 z M206.95,226.35 h1.15 v3.0 h-1.15 z" fill="#f4f4f4"/>
<path d="M205.62,230.72 h3.8 v1.15 h-3.8 z M206.95,229.8 h1.15 v3.0 h-1.15 z" fill="#f4f4f4"/>
<path d="M205.62,234.17 h3.8 v1.15 h-3.8 z M206.95,233.25 h1.15 v3.0 h-1.15 z" fill="#f4f4f4"/>
<path d="M205.62,237.62 h3.8 v1.15 h-3.8 z M206.95,236.7 h1.15 v3.0 h-1.15 z" fill="#f4f4f4"/>
<path d="M205.62,241.07 h3.8 v1.15 h-3.8 z M206.95,240.15 h1.15 v3.0 h-1.15 z" fill="#f4f4f4"/>
<path d="M205.62,244.52 h3.8 v1.15 h-3.8 z M206.95,243.6 h1.15 v3.0 h-1.15 z" fill="#f4f4f4"/>
<path d="M205.62,247.97 h3.8 v1.15 h-3.8 z M206.95,247.05 h1.15 v3.0 h-1.15 z" fill="#f4f4f4"/>
<path d="M205.62,251.42 h3.8 v1.15 h-3.8 z M206.95,250.5 h1.15 v3.0 h-1.15 z" fill="#f4f4f4"/>
<path d="M205.62,254.87 h3.8 v1.15 h-3.8 z M206.95,253.95 h1.15 v3.0 h-1.15 z" fill="#f4f4f4"/>
<path d="M205.62,258.32 h3.8 v1.15 h-3.8 z M206.95,257.4 h1.15 v3.0 h-1.15 z" fill="#f4f4f4"/>
<path d="M205.62,261.77 h3.8 v1.15 h-3.8 z M206.95,260.85 h1.15 v3.0 h-1.15 z" fill="#f4f4f4"/>
<rect x="204.55" y="194.6" width="5.95" height="69.2" fill="none" stroke="#111" stroke-width="1.05" />
<line x1="207.52" y1="194.6" x2="207.52" y2="193.3" stroke="#111" stroke-width="0.9" />
<line x1="204.95" y1="193.3" x2="210.1" y2="193.3" stroke="#111" stroke-width="1.4" />
<rect x="210.5" y="195.5" width="5.95" height="68.3" fill="url(#pHatch)" />
<rect x="210.5" y="195.5" width="5.95" height="68.3" fill="none" stroke="#111" stroke-width="1.05" />
<line x1="213.47" y1="195.5" x2="213.47" y2="194.6" stroke="#111" stroke-width="0.9" />
<line x1="210.9" y1="194.6" x2="216.05" y2="194.6" stroke="#111" stroke-width="1.4" />
<text x="61.5" y="273.9" font-size="7.2" font-family='"Liberation Serif", serif' font-weight="bold" fill="#111" textLength="28.3" lengthAdjust="spacingAndGlyphs" stroke="#111" stroke-width="0.3" >Parental</text>
<text x="97.5" y="273.9" font-size="7.2" font-family='"Liberation Serif", serif' font-weight="bold" fill="#111" textLength="9.5" lengthAdjust="spacingAndGlyphs" stroke="#111" stroke-width="0.3" >WT</text>
<text x="119.2" y="273.9" font-size="7.2" font-family='"Liberation Serif", serif' font-weight="bold" fill="#111" textLength="17.8" lengthAdjust="spacingAndGlyphs" stroke="#111" stroke-width="0.3" >S70A</text>
<text x="147" y="273.9" font-size="7.2" font-family='"Liberation Serif", serif' font-weight="bold" fill="#111" textLength="17.2" lengthAdjust="spacingAndGlyphs" stroke="#111" stroke-width="0.3" >S70E</text>
<text x="173.3" y="273.9" font-size="7.2" font-family='"Liberation Serif", serif' font-weight="bold" fill="#111" textLength="14" lengthAdjust="spacingAndGlyphs" stroke="#111" stroke-width="0.3" >AAA</text>
<text x="202" y="273.9" font-size="7.2" font-family='"Liberation Serif", serif' font-weight="bold" fill="#111" textLength="12.6" lengthAdjust="spacingAndGlyphs" stroke="#111" stroke-width="0.3" >EEE</text>
<rect x="229.3" y="194.2" width="43.5" height="39.6" fill="#fff" stroke="#555" stroke-width="1.2" />
<rect x="233.5" y="198.9" width="6.6" height="4.8" fill="#f4f4f4" stroke="#222" stroke-width="1.4" />
<circle cx="235.7" cy="201.3" r="0.9" fill="#444"/>
<path d="M236.9,201.3 l2,-1.3 M236.9,201.3 l2,1.3" stroke="#333" stroke-width="0.8"/>
<text x="246.4" y="203.6" font-size="7" font-family='"Liberation Serif", serif' font-weight="bold" fill="#111" textLength="13.4" lengthAdjust="spacingAndGlyphs" stroke="#111" stroke-width="0.3" >-IL3</text>
<rect x="233.5" y="212.1" width="6.6" height="4.8" fill="#eee" stroke="#222" stroke-width="1.4" />
<path d="M234.5,214 h2.6 v-1.0 l1.6,1.5 l-1.6,1.5 v-1.0 h-2.6 z" fill="#111"/>
<text x="246.4" y="216.8" font-size="7" font-family='"Liberation Serif", serif' font-weight="bold" fill="#111" textLength="20.4" lengthAdjust="spacingAndGlyphs" stroke="#111" stroke-width="0.3" >VP-16</text>
<rect x="233.5" y="225.3" width="6.6" height="4.8" fill="url(#pHatch)" stroke="#333" stroke-width="1.4" />
<text x="247.3" y="230" font-size="7" font-family='"Liberation Serif", serif' font-weight="bold" fill="#111" textLength="11.8" lengthAdjust="spacingAndGlyphs" stroke="#111" stroke-width="0.3" >Adr</text>
<text x="282" y="187.7" font-size="17.6" font-family='"Liberation Sans", sans-serif' font-weight="bold" fill="#000" textLength="12.7" lengthAdjust="spacingAndGlyphs" stroke="#000" stroke-width="0.1" >D</text>
<rect x="328" y="171.4" width="123.3" height="80.3" fill="none" stroke="#111" stroke-width="1.1" />
<line x1="328" y1="171" x2="328" y2="252.4" stroke="#000" stroke-width="1.5" />
<line x1="325.2" y1="251.7" x2="451.6" y2="251.7" stroke="#000" stroke-width="1.4" />
<line x1="325" y1="251.7" x2="328" y2="251.7" stroke="#000" stroke-width="1" />
<text x="318.2" y="254.05" font-size="6.6" font-family='"Liberation Sans", sans-serif' font-weight="bold" fill="#111" textLength="3.7" lengthAdjust="spacingAndGlyphs" stroke="#111" stroke-width="0.25" >0</text>
<line x1="325" y1="238.27" x2="328" y2="238.27" stroke="#000" stroke-width="1" />
<text x="318.2" y="240.62" font-size="6.6" font-family='"Liberation Sans", sans-serif' font-weight="bold" fill="#111" textLength="3.7" lengthAdjust="spacingAndGlyphs" stroke="#111" stroke-width="0.25" >2</text>
<line x1="325" y1="224.83" x2="328" y2="224.83" stroke="#000" stroke-width="1" />
<text x="318.2" y="227.18" font-size="6.6" font-family='"Liberation Sans", sans-serif' font-weight="bold" fill="#111" textLength="3.7" lengthAdjust="spacingAndGlyphs" stroke="#111" stroke-width="0.25" >4</text>
<line x1="325" y1="211.4" x2="328" y2="211.4" stroke="#000" stroke-width="1" />
<text x="318.2" y="213.75" font-size="6.6" font-family='"Liberation Sans", sans-serif' font-weight="bold" fill="#111" textLength="3.7" lengthAdjust="spacingAndGlyphs" stroke="#111" stroke-width="0.25" >6</text>
<line x1="325" y1="197.97" x2="328" y2="197.97" stroke="#000" stroke-width="1" />
<text x="318.2" y="200.32" font-size="6.6" font-family='"Liberation Sans", sans-serif' font-weight="bold" fill="#111" textLength="3.7" lengthAdjust="spacingAndGlyphs" stroke="#111" stroke-width="0.25" >8</text>
<line x1="325" y1="184.53" x2="328" y2="184.53" stroke="#000" stroke-width="1" />
<text x="314.6" y="186.88" font-size="6.6" font-family='"Liberation Sans", sans-serif' font-weight="bold" fill="#111" textLength="7.3" lengthAdjust="spacingAndGlyphs" stroke="#111" stroke-width="0.25" >10</text>
<line x1="325" y1="171.1" x2="328" y2="171.1" stroke="#000" stroke-width="1" />
<text x="314.6" y="173.45" font-size="6.6" font-family='"Liberation Sans", sans-serif' font-weight="bold" fill="#111" textLength="7.3" lengthAdjust="spacingAndGlyphs" stroke="#111" stroke-width="0.25" >12</text>
<line x1="339.8" y1="251.7" x2="339.8" y2="253.6" stroke="#000" stroke-width="0.9" />
<text x="338.1" y="260.6" font-size="6.2" font-family='"Liberation Serif", serif' font-weight="bold" fill="#111" textLength="3.4" lengthAdjust="spacingAndGlyphs" stroke="#111" stroke-width="0.3" >0</text>
<line x1="364.27" y1="251.7" x2="364.27" y2="253.6" stroke="#000" stroke-width="0.9" />
<text x="360.67" y="260.6" font-size="6.2" font-family='"Liberation Serif", serif' font-weight="bold" fill="#111" textLength="7.2" lengthAdjust="spacingAndGlyphs" stroke="#111" stroke-width="0.3" >24</text>
<line x1="388.73" y1="251.7" x2="388.73" y2="253.6" stroke="#000" stroke-width="0.9" />
<text x="385.13" y="260.6" font-size="6.2" font-family='"Liberation Serif", serif' font-weight="bold" fill="#111" textLength="7.2" lengthAdjust="spacingAndGlyphs" stroke="#111" stroke-width="0.3" >48</text>
<line x1="413.2" y1="251.7" x2="413.2" y2="253.6" stroke="#000" stroke-width="0.9" />
<text x="409.6" y="260.6" font-size="6.2" font-family='"Liberation Serif", serif' font-weight="bold" fill="#111" textLength="7.2" lengthAdjust="spacingAndGlyphs" stroke="#111" stroke-width="0.3" >72</text>
<text x="430" y="260.9" font-size="6.2" font-family='"Liberation Serif", serif' font-weight="bold" fill="#111" textLength="29.4" lengthAdjust="spacingAndGlyphs" stroke="#111" stroke-width="0.3" >Time (h)</text>
<text x="309.8" y="245.8" font-size="8.8" font-family='"Liberation Sans", sans-serif' font-weight="bold" fill="#111" textLength="40.8" lengthAdjust="spacingAndGlyphs" stroke="#111" stroke-width="0.3" transform="rotate(-90 309.8 245.8)" >Cell number</text>
<text x="309.8" y="204" font-size="8.8" font-family='"Liberation Sans", sans-serif' font-weight="bold" fill="#111" textLength="3.8" lengthAdjust="spacingAndGlyphs" stroke="#111" stroke-width="0.3" transform="rotate(-90 309.8 204)" >(</text>
<text x="309.8" y="198.3" font-size="8.4" font-family='"Liberation Sans", sans-serif' font-weight="bold" fill="#111" textLength="5.9" lengthAdjust="spacingAndGlyphs" stroke="#111" stroke-width="0.3" transform="rotate(-90 309.8 198.3)" >X</text>
<text x="309.8" y="189.5" font-size="8.4" font-family='"Liberation Sans", sans-serif' font-weight="bold" fill="#111" textLength="7.7" lengthAdjust="spacingAndGlyphs" stroke="#111" stroke-width="0.3" transform="rotate(-90 309.8 189.5)" >10</text>
<text x="306.2" y="181.6" font-size="6.8" font-family='"Liberation Sans", sans-serif' font-weight="bold" fill="#111" textLength="5" lengthAdjust="spacingAndGlyphs" stroke="#111" stroke-width="0.3" transform="rotate(-90 306.2 181.6)" >6</text>
<text x="309.8" y="175.6" font-size="8.8" font-family='"Liberation Sans", sans-serif' font-weight="bold" fill="#111" textLength="3.2" lengthAdjust="spacingAndGlyphs" stroke="#111" stroke-width="0.3" transform="rotate(-90 309.8 175.6)" >)</text>
<polyline points="339.8,244.98 364.27,238.27 388.73,210.39 413.2,185.88" fill="none" stroke="#222" stroke-width="0.9" />
<polyline points="339.8,244.98 364.27,239.95 388.73,220.13 413.2,208.38" fill="none" stroke="#222" stroke-width="0.9" />
<polyline points="339.8,244.98 364.27,238.27 388.73,211.4 413.2,188.9" fill="none" stroke="#222" stroke-width="0.9" />
<polyline points="339.8,244.98 364.27,242.63 388.73,234.24 413.2,224.83" fill="none" stroke="#222" stroke-width="0.9" />
<polyline points="339.8,244.98 364.27,242.3 388.73,234.91 413.2,228.19" fill="none" stroke="#222" stroke-width="0.9" />
<polyline points="339.8,244.98 364.27,242.97 388.73,235.24 413.2,229.53" fill="none" stroke="#222" stroke-width="0.9" />
<line x1="339.8" y1="245.99" x2="339.8" y2="243.98" stroke="#111" stroke-width="0.8" />
<line x1="338.1" y1="243.98" x2="341.5" y2="243.98" stroke="#111" stroke-width="0.9" />
<line x1="338.1" y1="245.99" x2="341.5" y2="245.99" stroke="#111" stroke-width="0.9" />
<circle cx="339.8" cy="244.98" r="1.62" fill="#111"/>
<line x1="364.27" y1="239.61" x2="364.27" y2="236.92" stroke="#111" stroke-width="0.8" />
<line x1="362.57" y1="236.92" x2="365.97" y2="236.92" stroke="#111" stroke-width="0.9" />
<line x1="362.57" y1="239.61" x2="365.97" y2="239.61" stroke="#111" stroke-width="0.9" />
<circle cx="364.27" cy="238.27" r="1.62" fill="#111"/>
<line x1="388.73" y1="212.41" x2="388.73" y2="208.38" stroke="#111" stroke-width="0.8" />
<line x1="387.03" y1="208.38" x2="390.43" y2="208.38" stroke="#111" stroke-width="0.9" />
<line x1="387.03" y1="212.41" x2="390.43" y2="212.41" stroke="#111" stroke-width="0.9" />
<circle cx="388.73" cy="210.39" r="1.62" fill="#111"/>
<line x1="413.2" y1="189.23" x2="413.2" y2="182.52" stroke="#111" stroke-width="0.8" />
<line x1="411.5" y1="182.52" x2="414.9" y2="182.52" stroke="#111" stroke-width="0.9" />
<line x1="411.5" y1="189.23" x2="414.9" y2="189.23" stroke="#111" stroke-width="0.9" />
<circle cx="413.2" cy="185.88" r="1.62" fill="#111"/>
<line x1="339.8" y1="245.99" x2="339.8" y2="243.98" stroke="#111" stroke-width="0.8" />
<line x1="338.1" y1="243.98" x2="341.5" y2="243.98" stroke="#111" stroke-width="0.9" />
<line x1="338.1" y1="245.99" x2="341.5" y2="245.99" stroke="#111" stroke-width="0.9" />
<rect x="337.8" y="242.98" width="4" height="4" fill="#111" />
<line x1="364.27" y1="241.29" x2="364.27" y2="238.6" stroke="#111" stroke-width="0.8" />
<line x1="362.57" y1="238.6" x2="365.97" y2="238.6" stroke="#111" stroke-width="0.9" />
<line x1="362.57" y1="241.29" x2="365.97" y2="241.29" stroke="#111" stroke-width="0.9" />
<rect x="362.27" y="237.95" width="4" height="4" fill="#111" />
<line x1="388.73" y1="222.15" x2="388.73" y2="218.12" stroke="#111" stroke-width="0.8" />
<line x1="387.03" y1="218.12" x2="390.43" y2="218.12" stroke="#111" stroke-width="0.9" />
<line x1="387.03" y1="222.15" x2="390.43" y2="222.15" stroke="#111" stroke-width="0.9" />
<rect x="386.73" y="218.13" width="4" height="4" fill="#111" />
<line x1="413.2" y1="210.93" x2="413.2" y2="205.83" stroke="#111" stroke-width="0.8" />
<line x1="411.5" y1="205.83" x2="414.9" y2="205.83" stroke="#111" stroke-width="0.9" />
<line x1="411.5" y1="210.93" x2="414.9" y2="210.93" stroke="#111" stroke-width="0.9" />
<rect x="411.2" y="206.38" width="4" height="4" fill="#111" />
<line x1="339.8" y1="245.99" x2="339.8" y2="243.98" stroke="#111" stroke-width="0.8" />
<line x1="338.1" y1="243.98" x2="341.5" y2="243.98" stroke="#111" stroke-width="0.9" />
<line x1="338.1" y1="245.99" x2="341.5" y2="245.99" stroke="#111" stroke-width="0.9" />
<polygon points="337.55,246.73 339.8,242.73 342.05,246.73" fill="#111" />
<line x1="364.27" y1="239.61" x2="364.27" y2="236.92" stroke="#111" stroke-width="0.8" />
<line x1="362.57" y1="236.92" x2="365.97" y2="236.92" stroke="#111" stroke-width="0.9" />
<line x1="362.57" y1="239.61" x2="365.97" y2="239.61" stroke="#111" stroke-width="0.9" />
<polygon points="362.02,240.02 364.27,236.02 366.52,240.02" fill="#111" />
<line x1="388.73" y1="213.41" x2="388.73" y2="209.38" stroke="#111" stroke-width="0.8" />
<line x1="387.03" y1="209.38" x2="390.43" y2="209.38" stroke="#111" stroke-width="0.9" />
<line x1="387.03" y1="213.41" x2="390.43" y2="213.41" stroke="#111" stroke-width="0.9" />
<polygon points="386.48,213.15 388.73,209.15 390.98,213.15" fill="#111" />
<line x1="413.2" y1="191.59" x2="413.2" y2="186.21" stroke="#111" stroke-width="0.8" />
<line x1="411.5" y1="186.21" x2="414.9" y2="186.21" stroke="#111" stroke-width="0.9" />
<line x1="411.5" y1="191.59" x2="414.9" y2="191.59" stroke="#111" stroke-width="0.9" />
<polygon points="410.95,190.65 413.2,186.65 415.45,190.65" fill="#111" />
<line x1="339.8" y1="245.99" x2="339.8" y2="243.98" stroke="#111" stroke-width="0.8" />
<line x1="338.1" y1="243.98" x2="341.5" y2="243.98" stroke="#111" stroke-width="0.9" />
<line x1="338.1" y1="245.99" x2="341.5" y2="245.99" stroke="#111" stroke-width="0.9" />
<polygon points="337.55,244.98 339.8,242.73 342.05,244.98 339.8,247.23" fill="#fff" stroke="#111" stroke-width="0.7" />
<line x1="364.27" y1="243.64" x2="364.27" y2="241.62" stroke="#111" stroke-width="0.8" />
<line x1="362.57" y1="241.62" x2="365.97" y2="241.62" stroke="#111" stroke-width="0.9" />
<line x1="362.57" y1="243.64" x2="365.97" y2="243.64" stroke="#111" stroke-width="0.9" />
<polygon points="362.02,242.63 364.27,240.38 366.52,242.63 364.27,244.88" fill="#fff" stroke="#111" stroke-width="0.7" />
<line x1="388.73" y1="235.58" x2="388.73" y2="232.89" stroke="#111" stroke-width="0.8" />
<line x1="387.03" y1="232.89" x2="390.43" y2="232.89" stroke="#111" stroke-width="0.9" />
<line x1="387.03" y1="235.58" x2="390.43" y2="235.58" stroke="#111" stroke-width="0.9" />
<polygon points="386.48,234.24 388.73,231.99 390.98,234.24 388.73,236.49" fill="#fff" stroke="#111" stroke-width="0.7" />
<line x1="413.2" y1="227.18" x2="413.2" y2="222.48" stroke="#111" stroke-width="0.8" />
<line x1="411.5" y1="222.48" x2="414.9" y2="222.48" stroke="#111" stroke-width="0.9" />
<line x1="411.5" y1="227.18" x2="414.9" y2="227.18" stroke="#111" stroke-width="0.9" />
<polygon points="410.95,224.83 413.2,222.58 415.45,224.83 413.2,227.08" fill="#fff" stroke="#111" stroke-width="0.7" />
<line x1="339.8" y1="245.99" x2="339.8" y2="243.98" stroke="#111" stroke-width="0.8" />
<line x1="338.1" y1="243.98" x2="341.5" y2="243.98" stroke="#111" stroke-width="0.9" />
<line x1="338.1" y1="245.99" x2="341.5" y2="245.99" stroke="#111" stroke-width="0.9" />
<line x1="337.8" y1="242.98" x2="341.8" y2="246.98" stroke="#111" stroke-width="0.7" />
<line x1="337.8" y1="246.98" x2="341.8" y2="242.98" stroke="#111" stroke-width="0.7" />
<line x1="337.55" y1="244.98" x2="342.05" y2="244.98" stroke="#111" stroke-width="0.7" />
<line x1="364.27" y1="243.3" x2="364.27" y2="241.29" stroke="#111" stroke-width="0.8" />
<line x1="362.57" y1="241.29" x2="365.97" y2="241.29" stroke="#111" stroke-width="0.9" />
<line x1="362.57" y1="243.3" x2="365.97" y2="243.3" stroke="#111" stroke-width="0.9" />
<line x1="362.27" y1="240.3" x2="366.27" y2="244.3" stroke="#111" stroke-width="0.7" />
<line x1="362.27" y1="244.3" x2="366.27" y2="240.3" stroke="#111" stroke-width="0.7" />
<line x1="362.02" y1="242.3" x2="366.52" y2="242.3" stroke="#111" stroke-width="0.7" />
<line x1="388.73" y1="236.25" x2="388.73" y2="233.56" stroke="#111" stroke-width="0.8" />
<line x1="387.03" y1="233.56" x2="390.43" y2="233.56" stroke="#111" stroke-width="0.9" />
<line x1="387.03" y1="236.25" x2="390.43" y2="236.25" stroke="#111" stroke-width="0.9" />
<line x1="386.73" y1="232.91" x2="390.73" y2="236.91" stroke="#111" stroke-width="0.7" />
<line x1="386.73" y1="236.91" x2="390.73" y2="232.91" stroke="#111" stroke-width="0.7" />
<line x1="386.48" y1="234.91" x2="390.98" y2="234.91" stroke="#111" stroke-width="0.7" />
<line x1="413.2" y1="230.21" x2="413.2" y2="226.18" stroke="#111" stroke-width="0.8" />
<line x1="411.5" y1="226.18" x2="414.9" y2="226.18" stroke="#111" stroke-width="0.9" />
<line x1="411.5" y1="230.21" x2="414.9" y2="230.21" stroke="#111" stroke-width="0.9" />
<line x1="411.2" y1="226.19" x2="415.2" y2="230.19" stroke="#111" stroke-width="0.7" />
<line x1="411.2" y1="230.19" x2="415.2" y2="226.19" stroke="#111" stroke-width="0.7" />
<line x1="410.95" y1="228.19" x2="415.45" y2="228.19" stroke="#111" stroke-width="0.7" />
<line x1="339.8" y1="245.99" x2="339.8" y2="243.98" stroke="#111" stroke-width="0.8" />
<line x1="338.1" y1="243.98" x2="341.5" y2="243.98" stroke="#111" stroke-width="0.9" />
<line x1="338.1" y1="245.99" x2="341.5" y2="245.99" stroke="#111" stroke-width="0.9" />
<rect x="337.55" y="242.73" width="4.5" height="4.5" fill="#fff" stroke="#111" stroke-width="0.7" />
<line x1="337.55" y1="242.73" x2="342.05" y2="247.23" stroke="#111" stroke-width="0.6" />
<line x1="337.55" y1="247.23" x2="342.05" y2="242.73" stroke="#111" stroke-width="0.6" />
<line x1="364.27" y1="243.98" x2="364.27" y2="241.96" stroke="#111" stroke-width="0.8" />
<line x1="362.57" y1="241.96" x2="365.97" y2="241.96" stroke="#111" stroke-width="0.9" />
<line x1="362.57" y1="243.98" x2="365.97" y2="243.98" stroke="#111" stroke-width="0.9" />
<rect x="362.02" y="240.72" width="4.5" height="4.5" fill="#fff" stroke="#111" stroke-width="0.7" />
<line x1="362.02" y1="240.72" x2="366.52" y2="245.22" stroke="#111" stroke-width="0.6" />
<line x1="362.02" y1="245.22" x2="366.52" y2="240.72" stroke="#111" stroke-width="0.6" />
<line x1="388.73" y1="236.59" x2="388.73" y2="233.9" stroke="#111" stroke-width="0.8" />
<line x1="387.03" y1="233.9" x2="390.43" y2="233.9" stroke="#111" stroke-width="0.9" />
<line x1="387.03" y1="236.59" x2="390.43" y2="236.59" stroke="#111" stroke-width="0.9" />
<rect x="386.48" y="232.99" width="4.5" height="4.5" fill="#fff" stroke="#111" stroke-width="0.7" />
<line x1="386.48" y1="232.99" x2="390.98" y2="237.49" stroke="#111" stroke-width="0.6" />
<line x1="386.48" y1="237.49" x2="390.98" y2="232.99" stroke="#111" stroke-width="0.6" />
<line x1="413.2" y1="231.55" x2="413.2" y2="227.52" stroke="#111" stroke-width="0.8" />
<line x1="411.5" y1="227.52" x2="414.9" y2="227.52" stroke="#111" stroke-width="0.9" />
<line x1="411.5" y1="231.55" x2="414.9" y2="231.55" stroke="#111" stroke-width="0.9" />
<rect x="410.95" y="227.28" width="4.5" height="4.5" fill="#fff" stroke="#111" stroke-width="0.7" />
<line x1="410.95" y1="227.28" x2="415.45" y2="231.78" stroke="#111" stroke-width="0.6" />
<line x1="410.95" y1="231.78" x2="415.45" y2="227.28" stroke="#111" stroke-width="0.6" />
<rect x="458.4" y="180.7" width="58.1" height="61.8" fill="#fff" stroke="#6a6a6a" stroke-width="1.2" />
<line x1="460.4" y1="186.5" x2="478.1" y2="186.5" stroke="#222" stroke-width="1" />
<circle cx="469.4" cy="186.5" r="1.37" fill="#111"/>
<text x="480" y="189.2" font-size="7.6" font-family='"Liberation Sans", sans-serif' font-weight="bold" fill="#111" textLength="23.5" lengthAdjust="spacingAndGlyphs" stroke="#111" stroke-width="0.25" >Vector</text>
<line x1="460.4" y1="196.85" x2="478.1" y2="196.85" stroke="#222" stroke-width="1" />
<rect x="467.72" y="195.17" width="3.36" height="3.36" fill="#111" />
<text x="480" y="199.55" font-size="7.6" font-family='"Liberation Sans", sans-serif' font-weight="bold" fill="#111" textLength="13.5" lengthAdjust="spacingAndGlyphs" stroke="#111" stroke-width="0.25" >WT</text>
<line x1="460.4" y1="207.2" x2="478.1" y2="207.2" stroke="#222" stroke-width="1" />
<polygon points="467.51,208.67 469.4,205.31 471.29,208.67" fill="#111" />
<text x="480" y="209.9" font-size="7.6" font-family='"Liberation Sans", sans-serif' font-weight="bold" fill="#111" textLength="20" lengthAdjust="spacingAndGlyphs" stroke="#111" stroke-width="0.25" >S70A</text>
<line x1="460.4" y1="217.55" x2="478.1" y2="217.55" stroke="#222" stroke-width="1" />
<polygon points="467.51,217.55 469.4,215.66 471.29,217.55 469.4,219.44" fill="#fff" stroke="#111" stroke-width="0.7" />
<text x="480" y="220.25" font-size="7.6" font-family='"Liberation Sans", sans-serif' font-weight="bold" fill="#111" textLength="20" lengthAdjust="spacingAndGlyphs" stroke="#111" stroke-width="0.25" >S70E</text>
<line x1="460.4" y1="227.9" x2="478.1" y2="227.9" stroke="#222" stroke-width="1" />
<line x1="467.72" y1="226.22" x2="471.08" y2="229.58" stroke="#111" stroke-width="0.7" />
<line x1="467.72" y1="229.58" x2="471.08" y2="226.22" stroke="#111" stroke-width="0.7" />
<line x1="467.51" y1="227.9" x2="471.29" y2="227.9" stroke="#111" stroke-width="0.7" />
<text x="480" y="230.6" font-size="7.6" font-family='"Liberation Sans", sans-serif' font-weight="bold" fill="#111" textLength="18" lengthAdjust="spacingAndGlyphs" stroke="#111" stroke-width="0.25" >AAA</text>
<line x1="460.4" y1="238.25" x2="478.1" y2="238.25" stroke="#222" stroke-width="1" />
<rect x="467.51" y="236.36" width="3.78" height="3.78" fill="#fff" stroke="#111" stroke-width="0.7" />
<line x1="467.51" y1="236.36" x2="471.29" y2="240.14" stroke="#111" stroke-width="0.6" />
<line x1="467.51" y1="240.14" x2="471.29" y2="236.36" stroke="#111" stroke-width="0.6" />
<text x="480" y="240.95" font-size="7.6" font-family='"Liberation Sans", sans-serif' font-weight="bold" fill="#111" textLength="14" lengthAdjust="spacingAndGlyphs" stroke="#111" stroke-width="0.25" >EEE</text>
<text x="303.8" y="269.6" font-size="6.3" font-family='"Liberation Serif", serif' font-weight="bold" fill="#111" textLength="80" lengthAdjust="spacingAndGlyphs" stroke="#111" stroke-width="0.3" >Cells Doubling Time:</text>
<text x="303.8" y="277.6" font-size="6.3" font-family='"Liberation Serif", serif' font-weight="bold" fill="#111" textLength="58.5" lengthAdjust="spacingAndGlyphs" stroke="#111" stroke-width="0.3" >Parental: 15.5h</text>
<text x="376.8" y="277.6" font-size="6.3" font-family='"Liberation Serif", serif' font-weight="bold" fill="#111" textLength="30.8" lengthAdjust="spacingAndGlyphs" stroke="#111" stroke-width="0.3" >WT: 21h</text>
<text x="418.8" y="277.6" font-size="6.3" font-family='"Liberation Serif", serif' font-weight="bold" fill="#111" textLength="47" lengthAdjust="spacingAndGlyphs" stroke="#111" stroke-width="0.3" >S70A: 16.4h</text>
<text x="476.7" y="277.6" font-size="6.3" font-family='"Liberation Serif", serif' font-weight="bold" fill="#111" textLength="34.6" lengthAdjust="spacingAndGlyphs" stroke="#111" stroke-width="0.3" >S7E: 35h</text>
<text x="303.8" y="285.4" font-size="6.3" font-family='"Liberation Serif", serif' font-weight="bold" fill="#111" textLength="42.4" lengthAdjust="spacingAndGlyphs" stroke="#111" stroke-width="0.3" >AAA: 16.2h</text>
<text x="360.3" y="285.4" font-size="6.3" font-family='"Liberation Serif", serif' font-weight="bold" fill="#111" textLength="42.8" lengthAdjust="spacingAndGlyphs" stroke="#111" stroke-width="0.3" >EEE: 38.4h</text>
</svg>
</body></html>
